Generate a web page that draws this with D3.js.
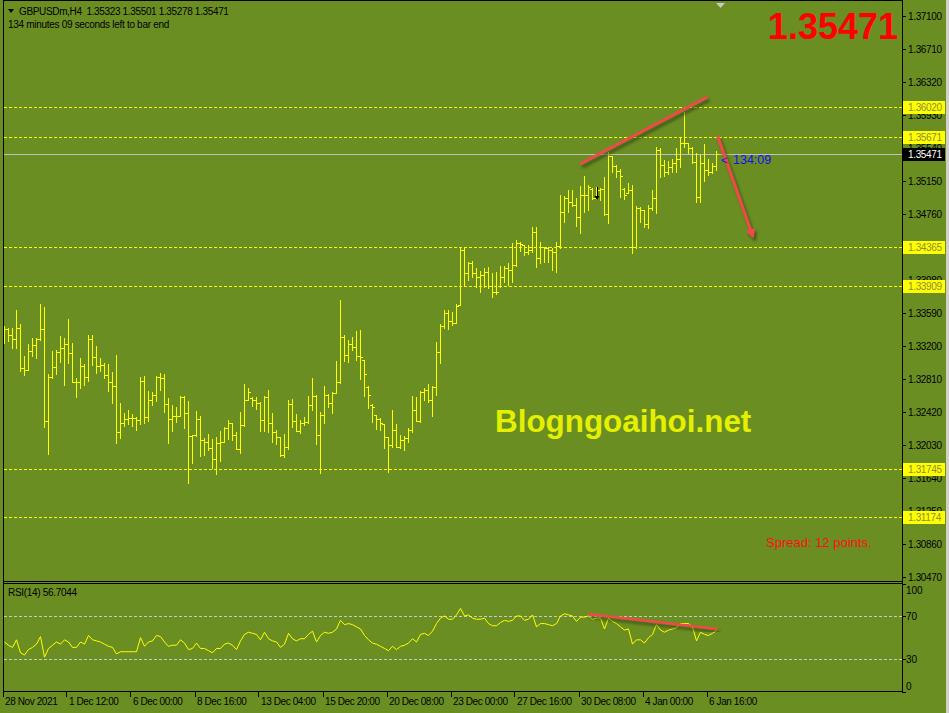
<!DOCTYPE html>
<html><head><meta charset="utf-8">
<script src="https://cdn.jsdelivr.net/npm/d3@7"></script>
<style>html,body{margin:0;padding:0;background:#6B8E23;}svg{display:block}</style>
</head><body>
<svg id="c" width="949" height="713"></svg>
<script>
// ---------- DATA ----------
const symbolTitle = "GBPUSDm,H4  1.35323 1.35501 1.35278 1.35471";
const timerText = "134 minutes 09 seconds left to bar end";
const lastPrice = 1.35471;
const rsiLast = 56.7044;

const open = [1.33420,1.33397,1.33327,1.33286,1.33409,1.32937,1.32913,1.33137,1.33208,1.33279,
1.33401,1.32317,1.32830,1.32952,1.33126,1.33176,1.33220,1.33121,1.32778,1.32771,
1.32960,1.32830,1.33283,1.33067,1.32967,1.32979,1.32857,1.32771,1.32727,1.32184,
1.32287,1.32337,1.32346,1.32346,1.32326,1.32786,1.32357,1.32558,1.32617,1.32830,
1.32822,1.32515,1.32334,1.32373,1.32373,1.32597,1.32405,1.32136,1.32145,1.32334,
1.32086,1.32069,1.31995,1.31861,1.32050,1.32069,1.32227,1.32285,1.32145,1.31985,
1.32263,1.32562,1.32590,1.32558,1.32523,1.32322,1.32594,1.32294,1.32180,1.32125,
1.31908,1.32006,1.32511,1.32317,1.32196,1.32287,1.32298,1.32503,1.32609,1.32145,
1.32381,1.32617,1.32523,1.32650,1.32771,1.33303,1.33090,1.33224,1.33192,1.33078,
1.33030,1.32720,1.32505,1.32380,1.32337,1.32275,1.32128,1.32030,1.32207,1.32010,
1.32089,1.32116,1.32207,1.32444,1.32317,1.32653,1.32684,1.32562,1.32719,1.33129,
1.33440,1.33587,1.33496,1.33475,1.33690,1.34335,1.34059,1.34177,1.34059,1.34019,
1.34039,1.34078,1.33909,1.33842,1.33905,1.34019,1.34118,1.34098,1.34157,1.34414,
1.34390,1.34307,1.34335,1.34551,1.34237,1.34374,1.34355,1.34335,1.34315,1.34385,
1.34787,1.34946,1.34898,1.34866,1.34728,1.34985,1.34985,1.35060,1.34946,1.35044,
1.35052,1.34760,1.35446,1.35327,1.35268,1.35060,1.35010,1.35044,1.34374,1.34827,
1.34807,1.34642,1.34827,1.34946,1.35516,1.35339,1.35260,1.35319,1.35359,1.35407,
1.35603,1.35596,1.35537,1.35378,1.34965,1.35359,1.35280,1.35260,1.35323];

const high = [1.33436,1.33416,1.33416,1.33625,1.33460,1.33082,1.33224,1.33295,1.33291,1.33696,
1.33661,1.32869,1.33141,1.33153,1.33318,1.33291,1.33519,1.33232,1.32822,1.33058,
1.32987,1.33334,1.33330,1.33200,1.33055,1.32996,1.32987,1.32896,1.33094,1.32526,
1.32412,1.32444,1.32396,1.32365,1.32837,1.32849,1.32672,1.32653,1.32849,1.32884,
1.32866,1.32589,1.32503,1.32479,1.32609,1.32609,1.32550,1.32148,1.32432,1.32373,
1.32113,1.32160,1.32105,1.32125,1.32192,1.32246,1.32326,1.32287,1.32180,1.32417,
1.32751,1.32704,1.32601,1.32594,1.32538,1.32609,1.32680,1.32408,1.32207,1.32128,
1.32156,1.32562,1.32570,1.32396,1.32326,1.32365,1.32609,1.32822,1.32617,1.32420,
1.32727,1.32633,1.32656,1.33026,1.33744,1.33330,1.33271,1.33310,1.33377,1.33389,
1.33035,1.32727,1.32511,1.32385,1.32346,1.32275,1.32128,1.32444,1.32275,1.32148,
1.32140,1.32227,1.32609,1.32601,1.32668,1.32707,1.32747,1.32727,1.33251,1.33464,
1.33625,1.33625,1.33605,1.33693,1.34355,1.34374,1.34196,1.34205,1.34118,1.34090,
1.34118,1.34137,1.34059,1.34078,1.34146,1.34146,1.34177,1.34414,1.34453,1.34433,
1.34394,1.34394,1.34610,1.34610,1.34433,1.34374,1.34374,1.34355,1.34433,1.34985,
1.34973,1.35044,1.35044,1.34946,1.35091,1.35209,1.35103,1.35064,1.35076,1.35064,
1.35201,1.35496,1.35446,1.35339,1.35288,1.35064,1.35123,1.35103,1.34855,1.34846,
1.34807,1.34866,1.35044,1.35555,1.35537,1.35398,1.35390,1.35407,1.35537,1.35666,
1.35969,1.35596,1.35555,1.35484,1.35457,1.35584,1.35407,1.35359,1.35501];

const low = [1.33239,1.33263,1.33180,1.33180,1.32905,1.32857,1.32913,1.33085,1.33062,1.33271,
1.32246,1.31927,1.32825,1.32869,1.33015,1.32739,1.33003,1.32771,1.32601,1.32707,
1.32739,1.32790,1.32976,1.32881,1.32905,1.32825,1.32672,1.32530,1.32057,1.32116,
1.32255,1.32275,1.32258,1.32211,1.32282,1.32294,1.32317,1.32503,1.32550,1.32684,
1.32424,1.32057,1.32199,1.32305,1.32373,1.32231,1.31585,1.31821,1.32136,1.31904,
1.31915,1.31971,1.31762,1.31691,1.31845,1.32069,1.32105,1.32089,1.31979,1.31936,
1.32255,1.32562,1.32491,1.32459,1.32199,1.32196,1.32180,1.32069,1.32042,1.31900,
1.31892,1.31979,1.32246,1.32192,1.32175,1.32266,1.32294,1.32444,1.32042,1.31703,
1.32294,1.32476,1.32405,1.32648,1.32766,1.33023,1.33015,1.33153,1.33035,1.32807,
1.32613,1.32464,1.32298,1.32219,1.32204,1.31998,1.31715,1.32003,1.32003,1.31998,
1.31967,1.32069,1.32180,1.32314,1.32298,1.32562,1.32542,1.32376,1.32621,1.33003,
1.33409,1.33401,1.33448,1.33475,1.33685,1.33921,1.33980,1.34019,1.33901,1.33842,
1.33901,1.33882,1.33783,1.33815,1.33901,1.33960,1.33921,1.33960,1.34149,1.34326,
1.34276,1.34287,1.34315,1.34137,1.34177,1.34196,1.34196,1.34098,1.34078,1.34355,
1.34669,1.34787,1.34855,1.34618,1.34532,1.34787,1.34807,1.34934,1.34934,1.34926,
1.34748,1.34650,1.35260,1.35201,1.34965,1.34934,1.35005,1.34296,1.34355,1.34669,
1.34610,1.34591,1.34807,1.34768,1.35194,1.35209,1.35233,1.35260,1.35260,1.35319,
1.35555,1.35477,1.35359,1.34905,1.34905,1.35150,1.35221,1.35248,1.35278];

const close = [1.33397,1.33327,1.33286,1.33409,1.32937,1.32913,1.33137,1.33208,1.33279,1.33401,
1.32317,1.32830,1.32952,1.33126,1.33176,1.33220,1.33121,1.32778,1.32771,1.32960,
1.32830,1.33283,1.33067,1.32967,1.32979,1.32857,1.32771,1.32727,1.32184,1.32287,
1.32337,1.32346,1.32346,1.32326,1.32786,1.32357,1.32558,1.32617,1.32830,1.32822,
1.32515,1.32334,1.32373,1.32373,1.32597,1.32405,1.32136,1.32145,1.32334,1.32086,
1.32069,1.31995,1.31861,1.32050,1.32069,1.32227,1.32290,1.32145,1.31985,1.32263,
1.32558,1.32656,1.32558,1.32523,1.32322,1.32594,1.32294,1.32180,1.32125,1.31908,
1.32006,1.32511,1.32317,1.32196,1.32287,1.32298,1.32503,1.32609,1.32145,1.32381,
1.32617,1.32523,1.32641,1.32771,1.33303,1.33090,1.33224,1.33192,1.33078,1.33074,
1.32866,1.32621,1.32483,1.32337,1.32287,1.32128,1.32030,1.32207,1.32010,1.32089,
1.32116,1.32207,1.32444,1.32317,1.32653,1.32684,1.32562,1.32719,1.33129,1.33440,
1.33587,1.33496,1.33475,1.33676,1.34335,1.34059,1.34177,1.34059,1.34019,1.34039,
1.34078,1.33909,1.33842,1.33842,1.34019,1.34118,1.34098,1.34157,1.34414,1.34406,
1.34307,1.34335,1.34551,1.34237,1.34374,1.34355,1.34335,1.34315,1.34385,1.34787,
1.34946,1.34898,1.34866,1.34728,1.34985,1.34985,1.35076,1.34946,1.35044,1.35052,
1.34760,1.35446,1.35327,1.35268,1.35209,1.34985,1.35044,1.34374,1.34827,1.34807,
1.34642,1.34827,1.34946,1.35516,1.35339,1.35260,1.35319,1.35359,1.35407,1.35603,
1.35596,1.35537,1.35378,1.34965,1.35359,1.35280,1.35260,1.35327,1.35471];

const rsi = [46,43,41,48,36,34,39,41,44,51,
32,40,43,46,44,48,46,41,41,46,
44,52,48,47,46,44,42,41,35,37,
37,37,37,37,50,42,46,47,52,51,
46,42,43,43,48,45,39,40,45,40,
40,38,36,40,40,44,45,43,39,47,
53,55,54,53,48,55,49,47,46,41,
44,54,49,47,49,49,53,56,46,52,
55,54,55,58,66,62,63,62,60,58,
52,48,45,44,42,40,38,42,39,42,
43,45,49,46,53,54,52,56,63,68,
70,67,67,71,77,70,71,68,67,67,
68,63,61,61,64,66,65,66,70,70,
66,67,71,60,63,63,62,61,63,70,
72,71,70,65,69,69,70,67,68,68,
58,68,65,63,60,57,58,44,48,48,
45,50,53,62,57,55,57,58,59,63,
63,63,60,47,55,53,52,54,56.7];

const priceTicks = [1.37100,1.36710,1.36320,1.35930,1.35540,1.35150,1.34760,1.34370,1.33980,1.33590,1.33200,1.32810,1.32420,1.32030,1.31640,1.31250,1.30860,1.30470];
const levelLines = [1.36020,1.35671,1.34365,1.33909,1.31745,1.31174];
const rsiLevels = [70,30];
const rsiAxisLabels = [100,70,30,0];
const timeLabels = ["28 Nov 2021","1 Dec 12:00","6 Dec 00:00","8 Dec 16:00","13 Dec 04:00","15 Dec 20:00","20 Dec 08:00","23 Dec 00:00","27 Dec 16:00","30 Dec 08:00","4 Jan 00:00","6 Jan 16:00"];
const timeLabelBars = [0,16,32,48,64,80,96,112,128,144,160,176];

// drawn objects (bar index, price)
const trendLine = [[143.9,1.35351],[175.7,1.36143]];
const arrowLine = [[178.25,1.35685],[187.1,1.34492]];
const rsiTrend = [[145.9,71.9],[178.2,58.0]];
const fractalBar = 148, fractalTop = 1.35079, fractalBottom = 1.34937;

// ---------- DRAW ----------
const W = 949, H = 713;
const BG = "#6B8E23", FONT = "'Liberation Sans', Arial, sans-serif";
const svg = d3.select("#c");
svg.append("rect").attr("width", W).attr("height", H).attr("fill", BG);

const x = d3.scaleLinear().domain([0, 178]).range([4.5, 716.5]);
const y = d3.scaleLinear().domain([1.30470, 1.37100]).range([577, 16]);
const yr = d3.scaleLinear().domain([0, 100]).range([691.8, 583.5]);
const px = v => Math.round(v) + 0.5;

const defs = svg.append("defs");
defs.append("clipPath").attr("id", "mainClip").append("rect").attr("x", 4).attr("y", 2).attr("width", 898).attr("height", 579);
defs.append("clipPath").attr("id", "rsiClip").append("rect").attr("x", 4).attr("y", 584).attr("width", 898).attr("height", 107);
const f = defs.append("filter").attr("id", "shadow").attr("x", "-20%").attr("y", "-20%").attr("width", "140%").attr("height", "140%");
f.append("feDropShadow").attr("dx", 2).attr("dy", 3).attr("stdDeviation", 1.6).attr("flood-color", "#2e3d0c").attr("flood-opacity", 0.75);
defs.append("marker").attr("id", "ah").attr("viewBox", "0 0 10 10").attr("refX", 8).attr("refY", 5)
  .attr("markerWidth", 3.2).attr("markerHeight", 3.2).attr("orient", "auto")
  .append("path").attr("d", "M0,0 L10,5 L0,10 z").attr("fill", "#F04848");

const main = svg.append("g").attr("clip-path", "url(#mainClip)");

// level dashed lines
main.selectAll("line.lvl").data(levelLines).enter().append("line")
  .attr("x1", 4).attr("x2", 902).attr("y1", d => px(y(d))).attr("y2", d => px(y(d)))
  .attr("stroke", "#FFFF00").attr("stroke-width", 1).attr("stroke-dasharray", "3,2").attr("shape-rendering", "crispEdges");

// current price line
main.append("line").attr("x1", 4).attr("x2", 902).attr("y1", px(y(lastPrice))).attr("y2", px(y(lastPrice)))
  .attr("stroke", "#C0C0C0").attr("stroke-width", 1).attr("shape-rendering", "crispEdges");

// OHLC bars
const idx = d3.range(close.length);
const bars = main.append("g").attr("stroke", "#FFFF00").attr("stroke-width", 1).attr("shape-rendering", "crispEdges").attr("fill", "none");
bars.selectAll("path").data(idx).enter().append("path")
  .attr("d", i => {
    const xi = x(i);
    const yh = Math.round(y(high[i])), yl = Math.round(y(low[i])) + 1;
    const yo = px(y(open[i])), yc = px(y(close[i]));
    return `M${xi},${yh}V${yl}M${xi - 2.5},${yo}H${xi}M${xi},${yc}H${xi + 2.5}`;
  });

// watermark
main.append("text").attr("x", 495).attr("y", 432).attr("font-family", FONT).attr("font-weight", "bold")
  .attr("font-size", 31.4).attr("fill", "#E4F000").text("Blogngoaihoi.net");

// fractal black arrow
main.append("line").attr("x1", px(x(fractalBar))).attr("x2", px(x(fractalBar)))
  .attr("y1", y(fractalTop)).attr("y2", y(fractalBottom) - 2).attr("stroke", "#000").attr("stroke-width", 1);
main.append("path").attr("d", `M${x(fractalBar) - 2},${y(fractalBottom) - 3}L${x(fractalBar) + 3},${y(fractalBottom) - 3}L${x(fractalBar) + 0.5},${y(fractalBottom) + 1}Z`).attr("fill", "#000");

// red trend line + arrow
main.append("line").attr("x1", x(trendLine[0][0])).attr("y1", y(trendLine[0][1]))
  .attr("x2", x(trendLine[1][0])).attr("y2", y(trendLine[1][1]))
  .attr("stroke", "#F04848").attr("stroke-width", 3).attr("filter", "url(#shadow)");
main.append("line").attr("x1", x(arrowLine[0][0])).attr("y1", y(arrowLine[0][1]))
  .attr("x2", x(arrowLine[1][0])).attr("y2", y(arrowLine[1][1]))
  .attr("stroke", "#F04848").attr("stroke-width", 3).attr("marker-end", "url(#ah)").attr("filter", "url(#shadow)");

// timer
main.append("text").attr("x", 721).attr("y", y(lastPrice) + 10).attr("font-family", FONT).attr("font-size", 11).attr("fill", "#1010F0").text("<");
main.append("text").attr("x", 733).attr("y", y(lastPrice) + 10).attr("font-family", FONT).attr("font-size", 12.5).attr("fill", "#1010F0").text("134:09");

// spread
main.append("text").attr("x", 766).attr("y", 547).attr("font-family", FONT).attr("font-size", 13).attr("fill", "#FF1010").text("Spread: 12 points.");

// big price
svg.append("text").attr("x", 898).attr("y", 39).attr("text-anchor", "end").attr("font-family", FONT)
  .attr("font-weight", "bold").attr("font-size", 36).attr("fill", "#FF0000").text(lastPrice.toFixed(5));

// title
svg.append("path").attr("d", "M8,9L14,9L11,13Z").attr("fill", "#000");
svg.append("text").attr("x", 19).attr("y", 15).attr("font-family", FONT).attr("font-size", 10).attr("letter-spacing", -0.35)
  .attr("fill", "#000").style("white-space", "pre").text(symbolTitle);
svg.append("text").attr("x", 8).attr("y", 28).attr("font-family", FONT).attr("font-size", 10).attr("letter-spacing", -0.3)
  .attr("fill", "#000").text(timerText);

// shift marker
svg.append("path").attr("d", "M716,3L725,3L720.5,8Z").attr("fill", "#C8C8C8");

// ---------- RSI pane ----------
const rg = svg.append("g").attr("clip-path", "url(#rsiClip)");
rg.selectAll("line.rl").data(rsiLevels).enter().append("line")
  .attr("x1", 4).attr("x2", 902).attr("y1", d => px(yr(d))).attr("y2", d => px(yr(d)))
  .attr("stroke", "#C8C8C8").attr("stroke-dasharray", "3,2").attr("shape-rendering", "crispEdges");
rg.append("path").datum(idx).attr("fill", "none").attr("stroke", "#FFFF00").attr("stroke-width", 1)
  .attr("d", d3.line().x(i => x(i)).y(i => yr(rsi[i])));
rg.append("line").attr("x1", x(rsiTrend[0][0])).attr("y1", yr(rsiTrend[0][1]))
  .attr("x2", x(rsiTrend[1][0])).attr("y2", yr(rsiTrend[1][1]))
  .attr("stroke", "#F04848").attr("stroke-width", 2.5).attr("filter", "url(#shadow)");
svg.append("text").attr("x", 8).attr("y", 596).attr("font-family", FONT).attr("font-size", 10).attr("letter-spacing", -0.3)
  .attr("fill", "#000").text("RSI(14) " + rsiLast.toFixed(4));

// ---------- frame ----------
const frame = svg.append("g").attr("stroke", "#000").attr("stroke-width", 1).attr("shape-rendering", "crispEdges");
[[3.5, 0, 3.5, 692], [902.5, 0, 902.5, 692], [3.5, 0.5, 902.5, 0.5], [3.5, 581.5, 902.5, 581.5], [3.5, 583.5, 902.5, 583.5], [3.5, 691.5, 902.5, 691.5]]
  .forEach(l => frame.append("line").attr("x1", l[0]).attr("y1", l[1]).attr("x2", l[2]).attr("y2", l[3]));

// price axis
const pa = svg.append("g");
pa.selectAll("line").data(priceTicks).enter().append("line")
  .attr("x1", 902).attr("x2", 906).attr("y1", d => px(y(d))).attr("y2", d => px(y(d)))
  .attr("stroke", "#000").attr("shape-rendering", "crispEdges");
pa.selectAll("text").data(priceTicks).enter().append("text")
  .attr("x", 908).attr("y", d => y(d) + 4).attr("font-family", FONT).attr("font-size", 10).attr("letter-spacing", -0.35)
  .attr("fill", "#000").text(d => d.toFixed(5));

// level labels
const ll = svg.append("g");
ll.selectAll("rect").data(levelLines).enter().append("rect")
  .attr("x", 903).attr("y", d => Math.round(y(d)) - 6).attr("width", 42).attr("height", 13).attr("fill", "#FFFF00");
ll.selectAll("text").data(levelLines).enter().append("text")
  .attr("x", 908).attr("y", d => y(d) + 4).attr("font-family", FONT).attr("font-size", 10).attr("letter-spacing", -0.35)
  .attr("fill", "#8C8C3C").text(d => d.toFixed(5));
svg.append("rect").attr("x", 903).attr("y", Math.round(y(lastPrice)) - 6).attr("width", 42).attr("height", 13).attr("fill", "#000");
svg.append("text").attr("x", 908).attr("y", y(lastPrice) + 4).attr("font-family", FONT).attr("font-size", 10).attr("letter-spacing", -0.35)
  .attr("fill", "#FFFFFF").text(lastPrice.toFixed(5));

// RSI axis
svg.selectAll("line.ra").data(rsiAxisLabels).enter().append("line")
  .attr("x1", 902).attr("x2", 906).attr("y1", d => px(yr(d))).attr("y2", d => px(yr(d)))
  .attr("stroke", "#000").attr("shape-rendering", "crispEdges");
svg.selectAll("text.ra").data(rsiAxisLabels).enter().append("text")
  .attr("x", 906).attr("y", d => Math.min(Math.max(yr(d) + 4, 594), 690)).attr("font-family", FONT).attr("font-size", 10)
  .attr("fill", "#000").text(d => d);

// time axis
svg.selectAll("line.ta").data(timeLabelBars).enter().append("line")
  .attr("x1", d => px(x(d) - 2)).attr("x2", d => px(x(d) - 2)).attr("y1", 692).attr("y2", 697)
  .attr("stroke", "#000").attr("shape-rendering", "crispEdges");
svg.selectAll("text.ta").data(timeLabels).enter().append("text")
  .attr("x", (d, i) => x(timeLabelBars[i]) + 0.5).attr("y", 705).attr("font-family", FONT).attr("font-size", 10).attr("letter-spacing", -0.4)
  .attr("fill", "#000").text(d => d);

// right window edge
svg.append("rect").attr("x", 946).attr("y", 0).attr("width", 3).attr("height", H).attr("fill", "#D4D0C8");
</script>
</body></html>
